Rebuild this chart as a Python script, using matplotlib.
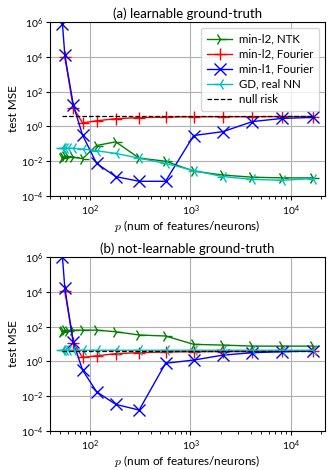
import matplotlib
matplotlib.use("Agg")
import matplotlib.pyplot as plt
import numpy as np

plt.rcParams['mathtext.fontset'] = 'cm'
plt.rcParams['font.family'] = ['Lato', 'DejaVu Sans']
plt.rcParams['font.size'] = 8

# number of features / neurons
p_all = [53, 54, 56, 60, 68, 84, 116, 180, 308, 564, 1076, 2100, 4148, 8244, 16436]
p_l1f = [53, 56, 68, 84, 116, 180, 308, 564, 1076, 2100, 4148, 8244, 16436]
p_l2f = [56, 68, 84, 116, 180, 308, 564, 1076, 2100, 4148, 8244, 16436]
p_null = [53, 16436]

# (a) learnable ground-truth
a_ntk = [0.015, 0.018, 0.02, 0.018, 0.017, 0.014, 0.08, 0.13, 0.015, 0.01,
         0.0027, 0.0016, 0.0012, 0.0011, 0.0011]
a_l2f = [1e4, 12, 1.6, 2.1, 2.8, 3.2, 3.4, 3.6, 3.6, 3.6, 3.7, 3.7]
a_l1f = [8e5, 1.2e4, 17, 0.32, 0.0075, 0.0013, 7e-4, 7e-4, 0.3, 0.5, 1.9, 2.9, 3.3]
a_gd = [0.06, 0.06, 0.058, 0.056, 0.055, 0.05, 0.04, 0.028, 0.015, 0.0075,
        0.0029, 0.0013, 9e-4, 8e-4, 0.001]
a_null = [3.8, 3.8]

# (b) not-learnable ground-truth
b_ntk = [51, 58, 62, 60, 62, 63, 63, 51, 33, 29, 9.6, 8.7, 7.6, 7.6, 7.6]
b_l2f = [1.1e4, 12, 1.7, 2.1, 2.8, 3.2, 3.5, 3.6, 3.7, 3.7, 3.8, 3.8]
b_l1f = [1e6, 1.6e4, 12.6, 0.32, 0.018, 0.0034, 0.0016, 0.78, 1.2, 2.3, 3.2, 3.6, 4.0]
b_gd = [4.5, 4.4, 4.4, 4.4, 4.4, 4.4, 4.4, 4.4, 4.4, 4.4, 4.4, 4.4, 4.4, 4.4, 4.4]
b_null = [4.0, 4.0]

fig = plt.figure(figsize=(3.33, 4.70), dpi=100)
ax1 = fig.add_axes([0.150, 0.583, 0.826, 0.370])
ax2 = fig.add_axes([0.150, 0.083, 0.826, 0.370])

panels = [(ax1, '(a) learnable ground-truth', a_ntk, a_l2f, a_l1f, a_gd, a_null),
          (ax2, '(b) not-learnable ground-truth', b_ntk, b_l2f, b_l1f, b_gd, b_null)]

for ax, title, ntk, l2f, l1f, gd, null in panels:
    ax.plot(p_all, ntk, color='green', marker='4', ms=9, lw=1, label='min-l2, NTK')
    ax.plot(p_l2f, l2f, color='red', marker='+', ms=9, lw=1, label='min-l2, Fourier')
    ax.plot(p_l1f, l1f, color='blue', marker='x', ms=9, lw=1, label='min-l1, Fourier')
    ax.plot(p_all, gd, color='c', marker='3', ms=9, lw=1, label='GD, real NN')
    ax.plot(p_null, null, 'k--', lw=0.9, label='null risk')
    ax.set_xscale('log')
    ax.set_yscale('log')
    ax.set_ylim(1e-4, 1e6)
    ax.set_yticks([1e-4, 1e-2, 1e0, 1e2, 1e4, 1e6])
    ax.yaxis.set_minor_locator(matplotlib.ticker.NullLocator())
    ax.grid(True, which='major', color='#b0b0b0', lw=0.8)
    ax.set_title(title, fontsize=9.5, pad=3)
    ax.set_ylabel('test MSE', fontsize=8.5, labelpad=1)
    ax.set_xlabel(r'$p$ (num of features/neurons)', fontsize=8.5, labelpad=0)
    ax.tick_params(labelsize=7.5, length=3, pad=2)
    ax.tick_params(which='minor', length=1.8)

ax1.legend(loc='upper right', fontsize=8.3, handlelength=2.2, borderpad=0.5,
           labelspacing=0.35, handletextpad=0.6, framealpha=0.8)

fig.savefig('out.png', dpi=100)
